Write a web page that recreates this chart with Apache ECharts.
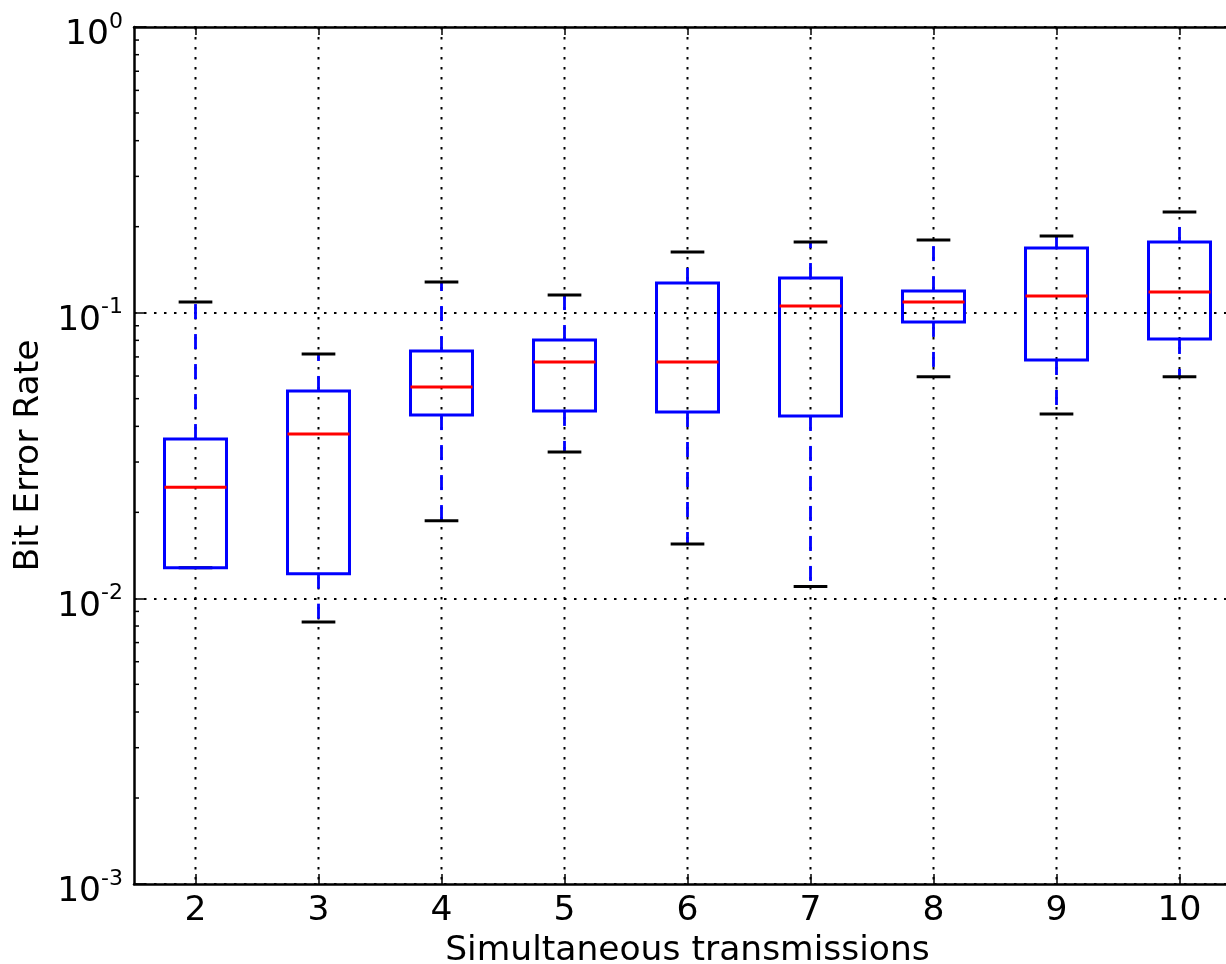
<!DOCTYPE html>
<html>
<head>
<meta charset="utf-8">
<script src="https://cdn.jsdelivr.net/npm/echarts@6/dist/echarts.min.js"></script>
<style>
html,body{margin:0;padding:0;background:#fff;}
#chart{width:1226px;height:964px;}
</style>
</head>
<body>
<div id="chart"></div>
<script>
const categories = ['2', '3', '4', '5', '6', '7', '8', '9', '10'];
const whiskerLow  = [0.0128, 0.00827, 0.0187, 0.0325, 0.0155, 0.0110, 0.0596, 0.0442, 0.0596];
const quartile1   = [0.0128, 0.0122, 0.0438, 0.0453, 0.0449, 0.0435, 0.0928, 0.0683, 0.0809];
const medians     = [0.0245, 0.0376, 0.0549, 0.0672, 0.0672, 0.1055, 0.1090, 0.1144, 0.1181];
const quartile3   = [0.0361, 0.0532, 0.0734, 0.0802, 0.1270, 0.1322, 0.1190, 0.1684, 0.1768];
const whiskerHigh = [0.1090, 0.0717, 0.1280, 0.1153, 0.1630, 0.1768, 0.1797, 0.1856, 0.2252];
const minorTickValues = [0.002, 0.003, 0.004, 0.005, 0.006, 0.007, 0.008, 0.009,
                         0.02, 0.03, 0.04, 0.05, 0.06, 0.07, 0.08, 0.09,
                         0.2, 0.3, 0.4, 0.5, 0.6, 0.7, 0.8, 0.9];
const yMin = 0.001, yMax = 1;

const FONT = 'DejaVu Sans';
const FS = 34.5;
const boxData = categories.map((c, i) => [i, whiskerLow[i], quartile1[i], medians[i], quartile3[i], whiskerHigh[i]]);
const minorData = minorTickValues.map(v => [0, v]);

const chart = echarts.init(document.getElementById('chart'), null, {renderer: 'canvas'});

function renderBox(params, api) {
  const idx = api.value(0);
  const lo = api.value(1), q1 = api.value(2), med = api.value(3), q3 = api.value(4), hi = api.value(5);
  const bw = api.size([1, 0])[0];
  const cx = api.coord([idx, med])[0];
  const yLo = api.coord([idx, lo])[1];
  const yQ1 = api.coord([idx, q1])[1];
  const yMed = api.coord([idx, med])[1];
  const yQ3 = api.coord([idx, q3])[1];
  const yHi = api.coord([idx, hi])[1];
  const yTop = api.coord([idx, yMax])[1];
  const yBot = api.coord([idx, yMin])[1];
  const halfBox = bw * 0.252;
  const halfCap = bw * 0.137;
  const children = [];
  children.push({type: 'line', shape: {x1: cx, y1: yTop, x2: cx, y2: yBot},
    style: {stroke: '#000', lineWidth: 2, lineDash: [2.5, 7.5]}});
  if (yQ3 - yHi > 0.5) children.push({type: 'line', shape: {x1: cx, y1: yQ3, x2: cx, y2: yHi},
    style: {stroke: '#0000ff', lineWidth: 2.8, lineDash: [15, 15]}});
  if (yLo - yQ1 > 0.5) children.push({type: 'line', shape: {x1: cx, y1: yQ1, x2: cx, y2: yLo},
    style: {stroke: '#0000ff', lineWidth: 2.8, lineDash: [15, 15]}});
  children.push({type: 'line', shape: {x1: cx - halfCap, y1: yHi, x2: cx + halfCap, y2: yHi},
    style: {stroke: '#000', lineWidth: 3}});
  children.push({type: 'line', shape: {x1: cx - halfCap, y1: yLo, x2: cx + halfCap, y2: yLo},
    style: {stroke: '#000', lineWidth: 3}});
  children.push({type: 'rect', shape: {x: cx - halfBox, y: yQ3, width: 2 * halfBox, height: yQ1 - yQ3},
    style: {stroke: '#0000ff', fill: 'none', lineWidth: 3}});
  children.push({type: 'line', shape: {x1: cx - halfBox, y1: yMed, x2: cx + halfBox, y2: yMed},
    style: {stroke: '#ff0000', lineWidth: 3}});
  return {type: 'group', children: children};
}

function renderMinor(params, api) {
  const bw = api.size([1, 0])[0];
  const p = api.coord([0, api.value(1)]);
  const x0 = p[0] - bw / 2;
  return {type: 'line', shape: {x1: x0, y1: p[1], x2: x0 + 5, y2: p[1]},
    style: {stroke: '#000', lineWidth: 1.5}};
}

const option = {
  backgroundColor: '#fff',
  animation: false,
  grid: {left: 134, right: -15, top: 27, bottom: 80, containLabel: false, outerBoundsMode: 'none'},
  xAxis: [{
    type: 'category',
    data: categories,
    position: 'bottom',
    boundaryGap: true,
    name: 'Simultaneous transmissions',
    nameLocation: 'middle',
    nameGap: 49,
    nameTextStyle: {fontFamily: FONT, fontSize: FS, color: '#000'},
    axisLine: {show: true, lineStyle: {color: '#000', width: 2.5}},
    axisTick: {show: true, inside: true, length: 10, alignWithLabel: true, lineStyle: {color: '#000', width: 1.5}},
    axisLabel: {fontFamily: FONT, fontSize: FS, color: '#000', margin: 10},
    splitLine: {show: false}
  }, {
    type: 'category',
    data: categories,
    position: 'top',
    boundaryGap: true,
    axisLine: {show: true, lineStyle: {color: '#000', width: 2.5}},
    axisTick: {show: true, inside: true, length: 8, alignWithLabel: true, lineStyle: {color: '#000', width: 1.5}},
    axisLabel: {show: false},
    splitLine: {show: false}
  }],
  yAxis: {
    type: 'log',
    logBase: 10,
    min: yMin,
    max: yMax,
    name: 'Bit Error Rate',
    nameLocation: 'middle',
    nameRotate: 90,
    nameGap: 87,
    nameTextStyle: {fontFamily: FONT, fontSize: FS, color: '#000'},
    axisLine: {show: true, lineStyle: {color: '#000', width: 2.5}},
    axisTick: {show: true, inside: true, length: 10, lineStyle: {color: '#000', width: 1.5}},
    axisLabel: {
      margin: 11,
      padding: [10, 0, 0, 0],
      formatter: function (v) {
        const e = Math.round(Math.log10(v));
        return '{b|10}{s|' + e + '}';
      },
      rich: {
        b: {fontFamily: FONT, fontSize: FS, color: '#000', verticalAlign: 'bottom', lineHeight: 42},
        s: {fontFamily: FONT, fontSize: 22, color: '#000', verticalAlign: 'top', lineHeight: 42}
      }
    },
    splitLine: {show: true, lineStyle: {color: '#000', width: 2, type: [2.5, 7.5]}}
  },
  series: [{
    type: 'custom',
    name: 'minor ticks',
    xAxisIndex: 0,
    renderItem: renderMinor,
    data: minorData,
    encode: {x: 0, y: 1},
    clip: false,
    silent: true,
    z: 3
  }, {
    type: 'custom',
    name: 'BER',
    xAxisIndex: 0,
    renderItem: renderBox,
    data: boxData,
    encode: {x: 0, y: [1, 2, 3, 4, 5]},
    clip: false,
    z: 2
  }]
};
chart.setOption(option);
</script>
</body>
</html>
